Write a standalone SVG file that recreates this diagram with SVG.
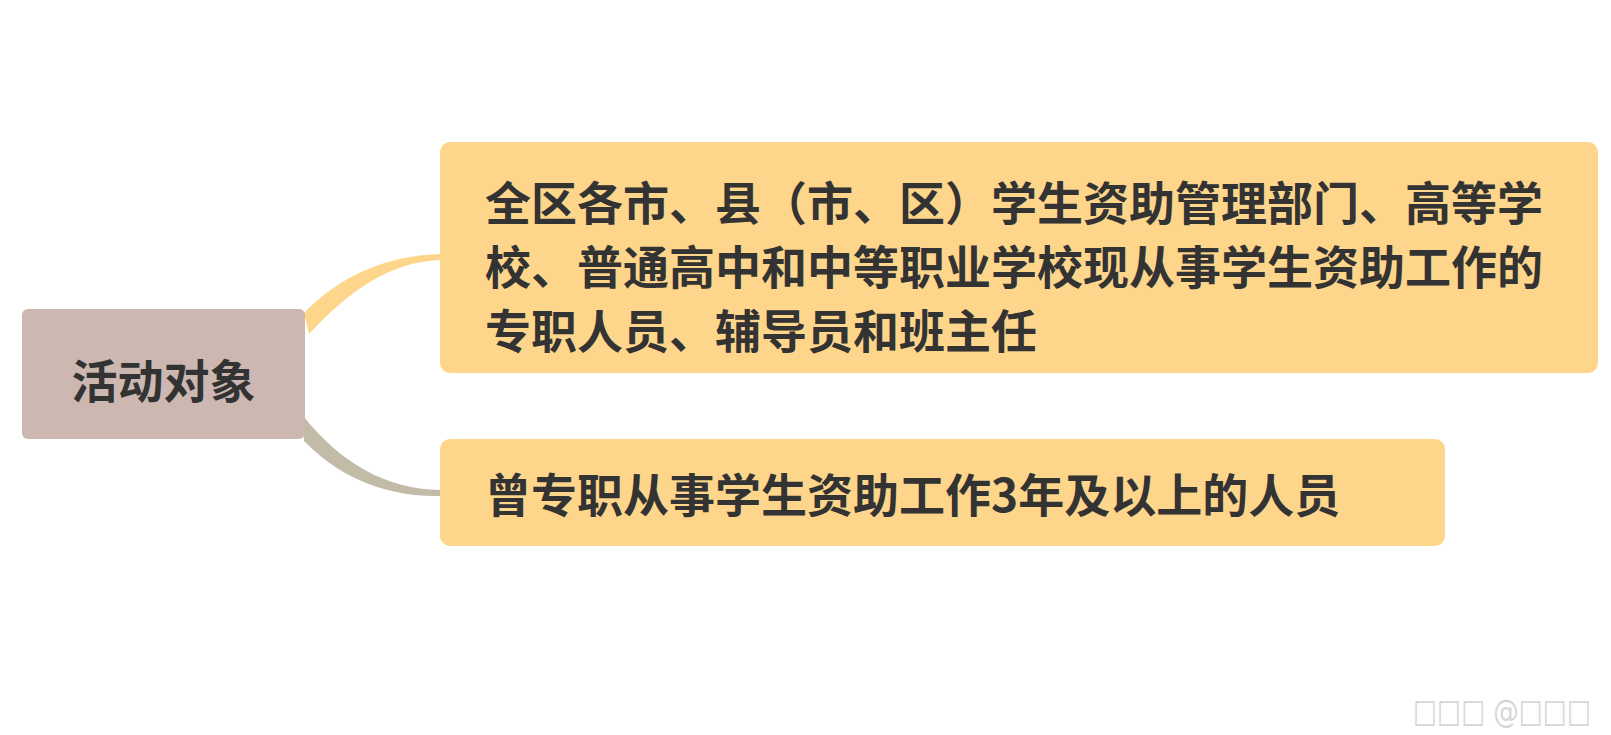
<svg xmlns="http://www.w3.org/2000/svg" width="1611" height="735" viewBox="0 0 1611 735">
<style>
.t{font-family:"Noto Sans CJK SC","Microsoft YaHei",sans-serif;font-weight:bold;fill:#333333;}
.wm{font-family:"DejaVu Sans",sans-serif;fill:#d6d6d6;}
</style>
<rect width="1611" height="735" fill="#ffffff"/>
<g id="connectors">
<path d="M304 313 C340 276 385 256 440 254 L440 260 C390 262 350 290 309 334 Z" fill="#FED68B"/>
<path d="M304 417 C340 462 385 489 440 490 L440 496 C380 497 335 473 304 441 Z" fill="#C2BBA7"/>
</g>
<g id="root">
<rect x="22" y="309" width="283" height="130" rx="6" fill="#CCB8B1"/>
<text class="t" x="163.5" y="398" font-size="46" text-anchor="middle">活动对象</text>
</g>
<g id="node1">
<rect x="440" y="142" width="1158" height="231" rx="10" fill="#FED68B"/>
<text class="t" font-size="46">
<tspan x="485" y="220">全区各市、县（市、区）学生资助管理部门、高等学</tspan>
<tspan x="485" y="284">校、普通高中和中等职业学校现从事学生资助工作的</tspan>
<tspan x="485" y="348">专职人员、辅导员和班主任</tspan>
</text>
</g>
<g id="node2">
<rect x="440" y="439" width="1005" height="107" rx="10" fill="#FED68B"/>
<text class="t" x="485" y="512" font-size="46">曾专职从事学生资助工作3年及以上的人员</text>
</g>
<g id="watermark">
<text class="wm" x="1413" y="722" font-size="32" textLength="178" lengthAdjust="spacingAndGlyphs">□□□ @□□□</text>
</g>
</svg>
